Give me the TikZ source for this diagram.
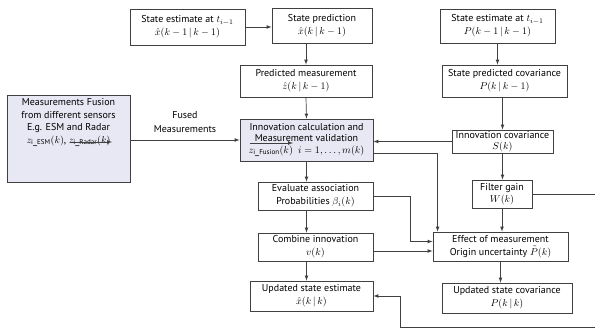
\documentclass[tikz,border=0pt]{standalone}
\usepackage{fontspec}
\setmainfont{PT Sans}
\usetikzlibrary{positioning}
\definecolor{fusefill}{RGB}{232,232,244}
\definecolor{boxline}{RGB}{64,64,64}

\tikzstyle{stage} = [draw=boxline,line width=0.8pt,align=center,inner sep=1pt,font=\fontsize{10}{13}\selectfont]
\tikzstyle{fused} = [stage,fill=fusefill]
\tikzstyle{flow} = [->,>=latex,draw=boxline,line width=0.7pt]

\begin{document}
\begin{tikzpicture}[x=1pt,y=-1pt]
		\useasboundingbox (0,0) rectangle (595,331);
		\clip (0,0) rectangle (595,331);
		% prediction column
		\node[stage,minimum width=115pt,minimum height=36pt] (se1) at (187.5,27) {State estimate at $t_{i-1}$\\ $\hat{x}(k-1\,|\,k-1)$};
		\node[stage,minimum width=100pt,minimum height=35pt] (sp) at (322,25.5) {State prediction\\ $\hat{x}(k\,|\,k-1)$};
		\node[stage,minimum width=132pt,minimum height=32pt] (pm) at (306,81) {Predicted measurement\\ $\hat{z}(k\,|\,k-1)$};
		\node[fused,minimum width=133pt,minimum height=42pt,font=\fontsize{10}{11.5}\selectfont] (inn) at (306.5,140) {Innovation calculation and\\ Measurement validation\\ $z_{\mathrm{i\_Fusion}}(k)$\ \ $i=1,\ldots,m(k)$};
		\node[stage,minimum width=115pt,minimum height=28pt] (eva) at (315.5,196) {Evaluate association\\ Probabilities $\beta_i(k)$};
		\node[stage,minimum width=115pt,minimum height=28pt] (comb) at (315.5,247) {Combine innovation\\ $v(k)$};
		\node[stage,minimum width=123pt,minimum height=30pt] (use) at (311.5,296) {Updated state estimate\\ $\hat{x}(k\,|\,k)$};
		% covariance column
		\node[stage,minimum width=115pt,minimum height=34pt] (se2) at (497.5,26) {State estimate at $t_{i-1}$\\ $P(k-1\,|\,k-1)$};
		\node[stage,minimum width=125pt,minimum height=32pt] (spc) at (504.5,81) {State predicted covariance\\ $P(k\,|\,k-1)$};
		\node[stage,minimum width=101pt,minimum height=23pt,font=\fontsize{10}{11}\selectfont] (icov) at (502.5,141.5) {Innovation covariance\\ $S(k)$};
		\node[stage,minimum width=60pt,minimum height=28pt,font=\fontsize{10}{11.5}\selectfont] (fg) at (502,194) {Filter gain\\ $W(k)$};
		\node[stage,minimum width=135pt,minimum height=29pt] (eff) at (500.5,246.5) {Effect of measurement\\ Origin uncertainty $\tilde{P}(k)$};
		\node[stage,minimum width=130pt,minimum height=30pt] (usc) at (507,298) {Updated state covariance\\ $P(k\,|\,k)$};
		% sensor fusion input
		\node[fused,minimum width=123pt,minimum height=87pt] (fus) at (68.5,138.5) {};
		\node[align=center,inner sep=0pt,font=\fontsize{10}{12.5}\selectfont,below=4pt of fus.north] (fustxt) {Measurements Fusion\\ from different sensors\\ E.g. ESM and Radar\\ $z_{\mathrm{i\_ESM}}(k)$, $z_{\mathrm{i\_Radar}}(k)$};
		\node[align=center,inner sep=0pt,font=\fontsize{10}{13.5}\selectfont] (fuslbl) at (185,122) {Fused\\ Measurements};

		\draw[flow] (se1.east) -- (se1.east -| sp.west);
		\draw[flow] (pm.north |- sp.south) -- (pm.north);
		\draw[flow] (pm.south) -- (inn.north);
		\draw[flow] (inn.west -| fus.east) -- (inn.west);
		\draw[flow] (icov.west) -- (icov.west -| inn.east);
		\draw[flow] (inn.south) -- (inn.south |- eva.north);
		\draw[flow] (inn.south |- eva.south) -- (inn.south |- comb.north);
		\draw[flow] (inn.south |- comb.south) -- (inn.south |- use.north);
		\draw[flow] (se2.south) -- (se2.south |- spc.north);
		\draw[flow] (icov.north |- spc.south) -- (icov.north);
		\draw[flow] (icov.south) -- (icov.south |- fg.north);
		\draw[flow] (fg.south) -- (fg.south |- eff.north);
		\draw[flow] (eff.south) -- (eff.south |- usc.north);
		\draw[flow] ([yshift=8pt]inn.south east) -| ([xshift=5pt]eff.north west);
		\draw[flow] (eva.east) -- ++(37,0) |- ([yshift=5pt]eff.west);
		\draw[flow] ([yshift=-4pt]comb.east) -- ([yshift=-4pt]comb.east -| eff.west);
		% gain feedback, runs past the frame
		\coordinate (loopc) at (620,327);
		\draw[flow] (fg.east) -| (loopc) -| ([xshift=27pt]use.east) -- (use.east);
		% stray arrows over the text
		\coordinate (s1) at (70,142);
		\coordinate (s2) at (112,142);
		\coordinate (s3) at (250,143);
		\coordinate (s4) at (293,143);
		\draw[flow] (s1) -- (s2);
		\draw[flow] (s3) -- (s4);
\end{tikzpicture}
\end{document}
